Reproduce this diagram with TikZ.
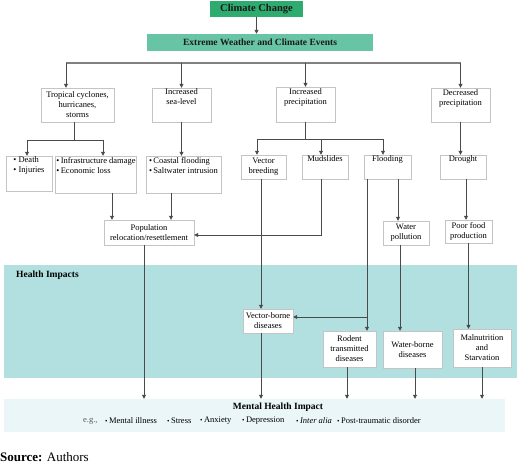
\documentclass[tikz,border=0pt]{standalone}
\usepackage{fontspec}
\setmainfont{Liberation Serif}
\usepackage{xcolor}
\usetikzlibrary{arrows.meta}
\definecolor{ccgreen}{HTML}{2EAB6E}
\definecolor{ewgreen}{HTML}{67C4A5}
\definecolor{healthbg}{HTML}{B2E0E1}
\definecolor{mentalbg}{HTML}{EBF6F8}
\definecolor{boxgray}{HTML}{C4C4C4}
\definecolor{linegray}{HTML}{4A4A4A}
\newcommand{\blockfont}{\fontsize{8.5}{10}\selectfont}
\newcommand{\titlefont}{\fontsize{9.5}{11}\selectfont\bfseries}

\begin{document}
\begin{tikzpicture}[
    x=1pt, y=-1pt,
    block/.style={draw=boxgray, fill=white, rectangle, align=center, inner sep=1pt, font=\blockfont},
    listblock/.style={block, align=left},
    head/.style={rectangle, align=center, inner sep=1pt, text=black!90},
    band/.style={rectangle, draw=none, inner sep=0pt},
    item/.style={anchor=west, inner sep=0pt, font=\blockfont},
    link/.style={draw=linegray, line width=0.8pt},
    >={Triangle[length=4pt,width=4pt]}
]
    \useasboundingbox (0,0) rectangle (520,465);

    % Bands
    \node[band, fill=healthbg, minimum width=513pt, minimum height=113pt] (health) at (260.5,321.5) {};
    \node[anchor=west, inner sep=0pt, font=\titlefont] (healthlbl) at (16,275) {Health Impacts};
    \node[band, fill=mentalbg, minimum width=501pt, minimum height=33pt] (mental) at (254.5,415.5) {};
    \node[inner sep=0pt, font=\titlefont] (mentallbl) at (278,407) {Mental Health Impact};
    \node[item, text=black!65] (eg) at (83,421) {e.g.,};
    \foreach \x/\t [count=\i] in {105/Mental illness, 167/Stress, 200/Anxiety, 242/Depression, 296/{\itshape Inter alia}, 337/Post-traumatic disorder}
        \node[item] (item\i) at (\x,421) {{\scriptsize\textbullet}\,\t};

    % Top blocks
    \node[head, fill=ccgreen, minimum width=93pt, minimum height=16pt, font=\fontsize{10.5}{12}\selectfont\bfseries] (cc) at (256.5,9) {Climate Change};
    \node[head, fill=ewgreen, minimum width=226pt, minimum height=17pt, font=\titlefont] (ew) at (260,42.5) {Extreme Weather and Climate Events};

    % Events
    \node[block, minimum width=73pt, minimum height=34pt] (trop) at (77.5,105) {Tropical cyclones,\\hurricanes,\\storms};
    \node[block, minimum width=59pt, minimum height=34pt] (sea) at (181.5,105) {Increased\\sea-level\\[6pt]};
    \node[block, minimum width=59pt, minimum height=35pt] (inc) at (305.5,104.5) {Increased\\precipitation\\[6pt]};
    \node[block, minimum width=59pt, minimum height=34pt] (decp) at (460.5,105) {Decreased\\precipitation\\[4pt]};

    % Consequences
    \node[listblock, minimum width=46pt, minimum height=35pt] (death) at (29,173.5) {\textbullet\ Death\\\textbullet\ Injuries\\[7pt]};
    \node[listblock, minimum width=80pt, minimum height=37pt] (infra) at (96,174.5) {\textbullet\,Infrastructure damage\\\textbullet\,Economic loss\\[7pt]};
    \node[listblock, minimum width=75pt, minimum height=37pt] (coast) at (183.5,174.5) {\textbullet\,Coastal flooding\\\textbullet\,Saltwater intrusion\\[7pt]};
    \node[block, minimum width=45pt, minimum height=24pt] (vb) at (263.5,167) {Vector\\breeding};
    \node[block, minimum width=46pt, minimum height=24pt] (mud) at (325,167) {Mudslides\\[6pt]};
    \node[block, minimum width=47pt, minimum height=24pt] (flood) at (387.5,167) {Flooding\\[6pt]};
    \node[block, minimum width=46pt, minimum height=24pt] (drought) at (463,167) {Drought\\[6pt]};

    \node[block, minimum width=90pt, minimum height=25pt] (pop) at (149,232.5) {Population\\relocation/resettlement};
    \node[block, minimum width=46pt, minimum height=24pt] (wp) at (406,233) {Water\\pollution};
    \node[block, minimum width=47pt, minimum height=23pt] (pf) at (468.5,231.5) {Poor food\\production};

    % Health impacts
    \node[block, minimum width=50pt, minimum height=24pt] (vbd) at (268,321) {Vector-borne\\diseases};
    \node[block, minimum width=53pt, minimum height=36pt] (rod) at (349.5,349) {Rodent\\transmitted\\diseases};
    \node[block, minimum width=59pt, minimum height=37pt] (wbd) at (412.5,349.5) {Water-borne\\diseases};
    \node[block, minimum width=58pt, minimum height=38pt] (mal) at (482,348) {Malnutrition\\and\\Starvation};

    % Source
    \node[anchor=west, inner sep=0pt, font=\fontsize{13}{15}\selectfont] (src) at (0,457) {\textbf{Source:} Authors};

    % Bus lines
    \coordinate (bar) at (0,63);
    \coordinate (split1) at (0,140);
    \coordinate (split2) at (0,139);
    \coordinate (branch) at (0,317);

    % Connections
    \draw[link, ->] (cc.south) -- (cc.south |- ew.north);
    \draw[link, draw=gray, line width=1.3pt] ([xshift=-11.5pt]trop.north |- bar) -- (decp.north |- bar);
    \draw[link, ->] ([xshift=-11.5pt]trop.north |- bar) -- ([xshift=-11.5pt]trop.north);
    \draw[link, ->] (sea.north |- bar) -- (sea.north);
    \draw[link, ->] (inc.north |- bar) -- (inc.north);
    \draw[link, ->] (decp.north |- bar) -- (decp.north);

    \draw[link] ([xshift=-3.5pt]trop.south) -- ([xshift=-3.5pt]trop.south |- split1);
    \draw[link] ([xshift=-2pt]death.north |- split1) -- ([xshift=7pt]infra.north |- split1);
    \draw[link, ->] ([xshift=-2pt]death.north |- split1) -- ([xshift=-2pt]death.north);
    \draw[link, ->] ([xshift=7pt]infra.north |- split1) -- ([xshift=7pt]infra.north);
    \draw[link, ->] (sea.south) -- (sea.south |- coast.north);

    \draw[link] (inc.south) -- (inc.south |- split2);
    \draw[link] ([xshift=-6.5pt]vb.north |- split2) -- ([xshift=-4.5pt]flood.north |- split2);
    \draw[link, ->] ([xshift=-6.5pt]vb.north |- split2) -- ([xshift=-6.5pt]vb.north);
    \draw[link, ->] ([xshift=-4pt]mud.north |- split2) -- ([xshift=-4pt]mud.north);
    \draw[link, ->] ([xshift=-4.5pt]flood.north |- split2) -- ([xshift=-4.5pt]flood.north);
    \draw[link, ->] (decp.south) -- (decp.south |- drought.north);

    \draw[link, ->] ([xshift=16pt]infra.south) -- ([xshift=16pt]infra.south |- pop.north);
    \draw[link, ->] ([xshift=-12.5pt]coast.south) -- ([xshift=-12.5pt]coast.south |- pop.north);
    \draw[link, ->] ([xshift=-4pt]mud.south) |- ([yshift=-2.5pt]pop.east);
    \draw[link, ->] ([xshift=10.5pt]flood.south) -- ([xshift=10.5pt]flood.south |- wp.north);
    \draw[link, ->] ([xshift=3pt]drought.south) -- ([xshift=3pt]drought.south |- pf.north);

    \draw[link, ->] ([xshift=-2.5pt]vb.south) -- ([xshift=-2.5pt]vb.south |- vbd.north);
    \draw[link, ->] ([xshift=-20.5pt]flood.south) -- ([xshift=-20.5pt]flood.south |- rod.north);
    \draw[link, ->] ([xshift=-20.5pt]flood.south |- branch) -- (vbd.east |- branch);
    \draw[link, ->] ([xshift=-6pt]wp.south) -- ([xshift=-6pt]wp.south |- wbd.north);
    \draw[link, ->] (pf.south) -- (pf.south |- mal.north);

    % Into mental health
    \draw[link, ->] ([xshift=-5pt]pop.south) -- ([xshift=-5pt]pop.south |- mental.north);
    \draw[link, ->] ([xshift=-7pt]vbd.south) -- ([xshift=-7pt]vbd.south |- mental.north);
    \draw[link, ->] ([xshift=-2.5pt]rod.south) -- ([xshift=-2.5pt]rod.south |- mental.north);
    \draw[link, ->] ([xshift=2.5pt]wbd.south) -- ([xshift=2.5pt]wbd.south |- mental.north);
    \draw[link, ->] (mal.south) -- (mal.south |- mental.north);
\end{tikzpicture}
\end{document}
